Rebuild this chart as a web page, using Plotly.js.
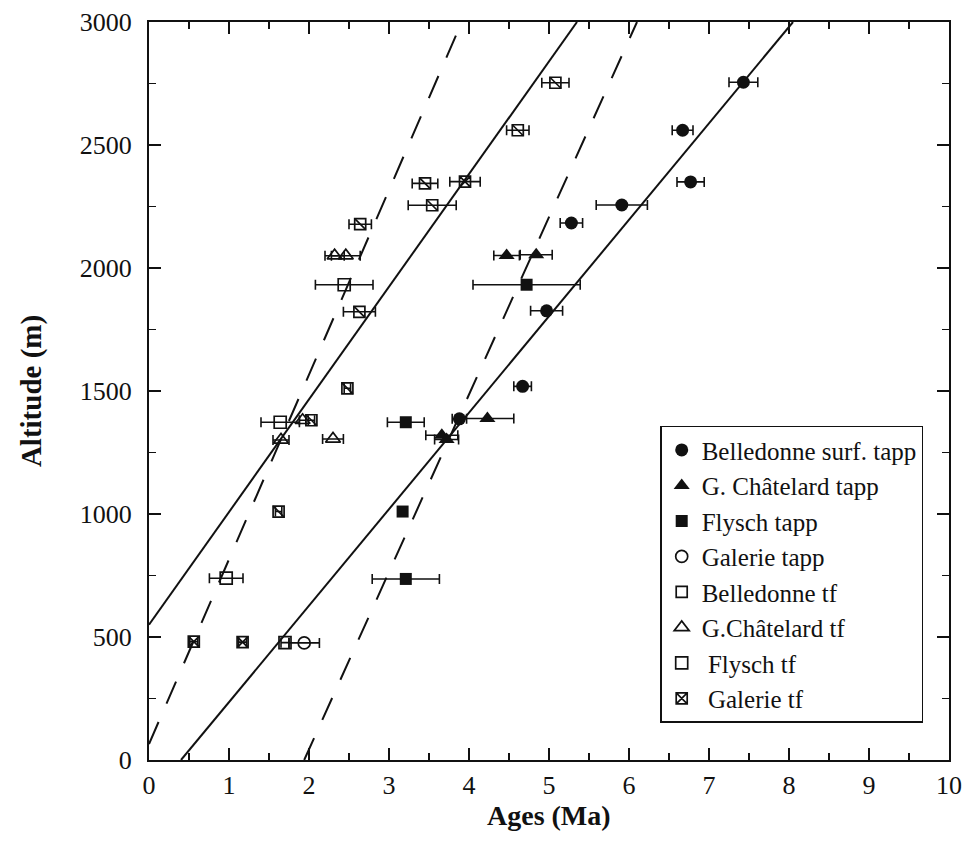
<!DOCTYPE html>
<html>
<head>
<meta charset="utf-8">
<script src="https://cdn.plot.ly/plotly-3.0.1.min.js"></script>
<style>html,body{margin:0;padding:0;background:#fff;}#chart{width:972px;height:849px;}</style>
</head>
<body>
<div id="chart"></div>
<script>
// ---- data ----
const bsTappX = [7.43, 6.67, 6.77, 5.91, 5.28, 4.97, 4.67, 3.88];
const bsTappY = [2755, 2560, 2350, 2256, 2183, 1826, 1519, 1387];
const bsTappErr = [0.18, 0.13, 0.17, 0.32, 0.14, 0.20, 0.11, 0.09];

const gcTappX = [4.47, 4.84, 4.23, 3.66, 3.72];
const gcTappY = [2051, 2054, 1388, 1320, 1303];
const gcTappErr = [0.16, 0.20, 0.33, 0.20, 0.15];

const flTappX = [4.72, 3.21, 3.17, 3.21];
const flTappY = [1932, 1373, 1010, 736];
const flTappErr = [0.67, 0.23, 0.03, 0.42];

const gaTappX = [1.94];
const gaTappY = [476];
const gaTappErr = [0.19];

const bTfX = [5.08, 4.61, 3.45, 3.54, 2.64, 2.63, 2.48, 2.03, 1.62];
const bTfY = [2753, 2560, 2344, 2255, 2178, 1822, 1511, 1381, 1010];
const bTfErr = [0.17, 0.14, 0.16, 0.30, 0.14, 0.20, 0.04, 0.04, 0.04];

const gcTfX = [2.32, 2.46, 1.92, 2.30, 1.65];
const gcTfY = [2050, 2050, 1381, 1305, 1301];
const gcTfErr = [0.12, 0.18, 0.04, 0.13, 0.10];

const flTfX = [2.44, 1.64, 0.965, 1.70];
const flTfY = [1932, 1373, 739, 477];
const flTfErr = [0.36, 0.24, 0.21, 0.05];

const gaTfX = [0.56, 1.17, 3.95];
const gaTfY = [481, 479, 2351];
const gaTfErr = [0.05, 0.05, 0.19];

// model lines (end points)
const solidAX = [0, 5.35], solidAY = [550, 3000];
const solidBX = [0.40, 8.05], solidBY = [0, 3000];
const dashAX = [0, 3.91], dashAY = [65, 3000];
const dashBX = [1.94, 6.10], dashBY = [0, 3000];

const seriesNames = ['Belledonne surf. tapp', 'G. Châtelard tapp', 'Flysch tapp', 'Galerie tapp',
  'Belledonne tf', 'G.Châtelard tf', '\u00a0Flysch tf', '\u00a0Galerie tf'];
const xTitle = 'Ages (Ma)';
const yTitle = 'Altitude (m)';

// ---- drawing ----
const FONT = 'Liberation Serif, Times New Roman, serif';
function errx(arr) {
  return {type: 'data', array: arr, visible: true, color: '#111', thickness: 1.6, width: 5};
}
function line(x, y, dash) {
  return {x: x, y: y, mode: 'lines', showlegend: false, hoverinfo: 'skip',
    line: {color: '#111', width: 2, dash: dash}};
}
function pts(x, y, e, name, symbol, size, filled) {
  return {x: x, y: y, name: name, mode: 'markers', error_x: errx(e),
    marker: {symbol: symbol, size: size, color: '#111',
      line: {color: '#111', width: filled ? 0 : 1.7}}};
}

const traces = [
  line(solidAX, solidAY, 'solid'),
  line(solidBX, solidBY, 'solid'),
  line(dashAX, dashAY, '24px,20px'),
  line(dashBX, dashBY, '24px,20px'),
  pts(bsTappX, bsTappY, bsTappErr, seriesNames[0], 'circle', 13, true),
  pts(gcTappX, gcTappY, gcTappErr, seriesNames[1], 'triangle-up', 14, true),
  pts(flTappX, flTappY, flTappErr, seriesNames[2], 'square', 12, true),
  pts(gaTappX, gaTappY, gaTappErr, seriesNames[3], 'circle-open', 12, false),
  pts(bTfX, bTfY, bTfErr, seriesNames[4], 'square-open', 11, false),
  pts(gcTfX, gcTfY, gcTfErr, seriesNames[5], 'triangle-up-open', 13, false),
  pts(flTfX, flTfY, flTfErr, seriesNames[6], 'square-open', 12, false),
  pts(gaTfX, gaTfY, gaTfErr, seriesNames[7], 'square-x-open', 11, false),
  // diagonal stroke inside the Belledonne tf squares
  {x: bTfX, y: bTfY, mode: 'markers', showlegend: false, hoverinfo: 'skip',
    marker: {symbol: 'line-nw', size: 11, line: {color: '#111', width: 1.7}}}
];

const axisCommon = {
  showline: true, linewidth: 2, linecolor: '#111', mirror: 'allticks',
  ticks: 'inside', ticklen: 12, tickwidth: 1.5, tickcolor: '#111',
  showgrid: false, zeroline: false,
  tickfont: {family: FONT, size: 26, color: '#111'}
};

const layout = {
  width: 972, height: 849,
  margin: {l: 149, r: 23, t: 22, b: 89},
  paper_bgcolor: '#fff', plot_bgcolor: '#fff',
  showlegend: true,
  xaxis: Object.assign({}, axisCommon, {
    range: [0, 10], tick0: 0, dtick: 1, ticklabelstandoff: 1,
    minor: {ticks: 'inside', ticklen: 7, tickwidth: 1.5, tickcolor: '#111', dtick: 0.5, tick0: 0}
  }),
  yaxis: Object.assign({}, axisCommon, {
    range: [0, 3000], tick0: 0, dtick: 500, ticklabelstandoff: 10,
    minor: {ticks: 'inside', ticklen: 7, tickwidth: 1.5, tickcolor: '#111', dtick: 250, tick0: 0},
    title: {text: yTitle, standoff: 30, font: {family: FONT, size: 29, weight: 'bold', color: '#111'}}
  }),
  annotations: [{
    text: xTitle, xref: 'paper', yref: 'paper', x: 0.5, y: -0.052,
    xanchor: 'center', yanchor: 'top', showarrow: false,
    font: {family: FONT, size: 28, weight: 'bold', color: '#111'}
  }],
  legend: {
    x: 0.639, y: 0.453, xanchor: 'left', yanchor: 'top',
    bgcolor: '#fff', bordercolor: '#111', borderwidth: 1.5,
    font: {family: FONT, size: 25, color: '#111'},
    itemsizing: 'trace'
  }
};

Plotly.newPlot('chart', traces, layout, {displayModeBar: false, staticPlot: true});
</script>
</body>
</html>
